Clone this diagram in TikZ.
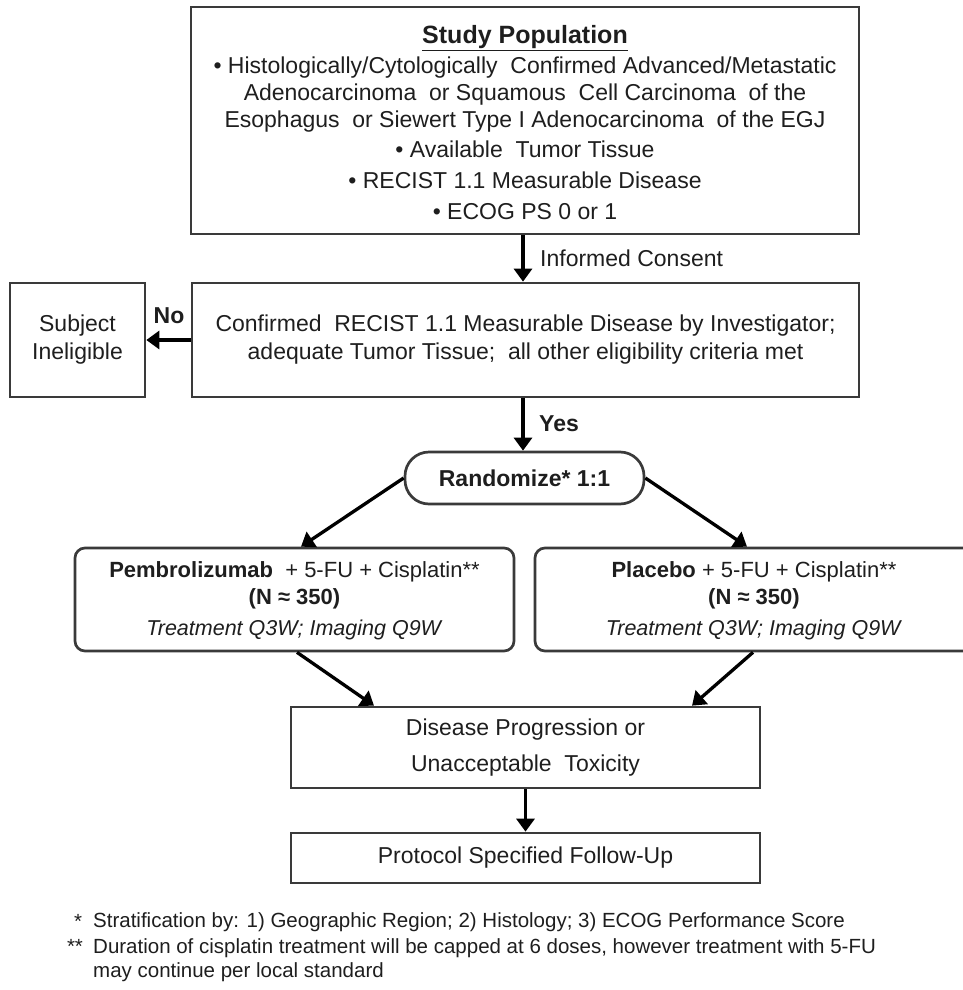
\documentclass[tikz,border=0pt]{standalone}
\usepackage{fontspec}
\setmainfont{Liberation Sans}
\usetikzlibrary{arrows.meta}
\newcommand\fsz[2]{\fontsize{#1}{#2}\selectfont}
\definecolor{boxline}{HTML}{3A3A3A}
\definecolor{ink}{HTML}{1E1E1E}
\tikzset{
  box/.style={draw=boxline, line width=2.7pt, align=center, inner sep=0pt, text=ink},
  rbox/.style={box, rounded corners=10pt},
  pill/.style={box, rounded corners=24pt},
  arr/.style={draw=black, line width=3.3pt, -{Triangle[length=13pt,width=18pt]}},
  lbl/.style={inner sep=0pt, text=ink},
}
\begin{document}
\begin{tikzpicture}[x=1pt,y=-1pt]
\useasboundingbox (0,0) rectangle (962,990);
% anchor x positions for connectors
\coordinate (cx) at (523,0);
\coordinate (ta) at (301,0);
\coordinate (tb) at (747,0);
\coordinate (sa) at (297,0);
\coordinate (sb) at (753,0);
\coordinate (pa) at (374,0);
\coordinate (pb) at (692,0);

\node[box, minimum width=668pt, minimum height=227pt, font=\fsz{23}{27}] (pop) at (525,120.5) {};
\node[lbl, align=center, font=\fsz{23}{27}] (poptext) at (525,123) {%
  {\fsz{25}{27}\bfseries\underline{Study Population}}\\[3pt]
  • Histologically/Cytologically\ \ Confirmed Advanced/Metastatic\\
  Adenocarcinoma\ \ or Squamous\ \ Cell Carcinoma\ \ of the\\
  Esophagus\ \ or Siewert Type I Adenocarcinoma\ \ of the EGJ\\[3pt]
  • Available\ \ Tumor Tissue\\[4pt]
  • RECIST 1.1 Measurable Disease\\[4pt]
  • ECOG PS 0 or 1};

\node[box, minimum width=667pt, minimum height=114pt, font=\fsz{23}{28}] (elig) at (525.5,340)
  {Confirmed\ \ RECIST 1.1 Measurable Disease by Investigator;\\
   adequate Tumor Tissue;\ \ all other eligibility criteria met};

\node[box, minimum width=135pt, minimum height=114pt, font=\fsz{23}{28}] (inel) at (77.5,340)
  {Subject\\Ineligible};

\node[pill, minimum width=239pt, minimum height=52pt, font=\fsz{23}{27}\bfseries] (rand) at (524.5,478)
  {Randomize*\ 1:1};

\node[rbox, minimum width=439pt, minimum height=103pt] (armA) at (294.5,599.5) {};
\node[lbl, align=center, font=\fsz{22}{27}] (armAtext) at (294.5,601)
  {\textbf{Pembrolizumab}\ \ + 5-FU + Cisplatin**\\
   \textbf{(N ≈ 350)}\\[4pt]
   \textit{\fsz{21.5}{27}Treatment Q3W; Imaging Q9W}};

\node[rbox, minimum width=440pt, minimum height=103pt] (armB) at (755,599.5) {};
\node[lbl, align=center, font=\fsz{22}{27}] (armBtext) at (754,601)
  {\textbf{Placebo} + 5-FU + Cisplatin**\\
   \textbf{(N ≈ 350)}\\[4pt]
   \textit{\fsz{21.5}{27}Treatment Q3W; Imaging Q9W}};

\node[box, minimum width=469pt, minimum height=81pt, font=\fsz{23}{36}] (prog) at (525.5,747.5)
  {Disease Progression or\\Unacceptable\ \ Toxicity};

\node[box, minimum width=469pt, minimum height=50pt, font=\fsz{23}{27}] (fu) at (525.5,858)
  {Protocol Specified Follow-Up};

% connectors
\draw[arr] (pop.south -| cx) -- (elig.north -| cx);
\node[lbl, anchor=west, font=\fsz{23}{27}] (consent) at (540,258) {Informed Consent};
\draw[arr] (elig.west) -- (inel.east);
\node[lbl, font=\fsz{23}{27}\bfseries] (no) at (169,316) {No};
\draw[arr] (elig.south -| cx) -- (rand.north -| cx);
\node[lbl, anchor=west, font=\fsz{23}{27}\bfseries] (yes) at (539,424) {Yes};
\draw[arr] (rand.west) -- (armA.north -| ta);
\draw[arr] (rand.east) -- (armB.north -| tb);
\draw[arr] (armA.south -| sa) -- (prog.north -| pa);
\draw[arr] (armB.south -| sb) -- (prog.north -| pb);
\draw[arr] (prog.south) -- (fu.north);

% footnotes
\node[lbl, anchor=base, font=\fsz{20.5}{25}] (fm1) at (78,928) {*};
\node[lbl, anchor=base west, font=\fsz{20.5}{25}] (fn1) at (93,927)
  {Stratification by: 1) Geographic Region; 2) Histology; 3) ECOG Performance Score};
\node[lbl, anchor=base, font=\fsz{20.5}{25}] (fm2) at (75,953) {**};
\node[lbl, anchor=base west, font=\fsz{20.5}{25}] (fn2) at (93,953)
  {Duration of cisplatin treatment will be capped at 6 doses, however treatment with 5-FU};
\node[lbl, anchor=base west, font=\fsz{20.5}{25}] (fn2b) at (93,977)
  {may continue per local standard};
\end{tikzpicture}
\end{document}
